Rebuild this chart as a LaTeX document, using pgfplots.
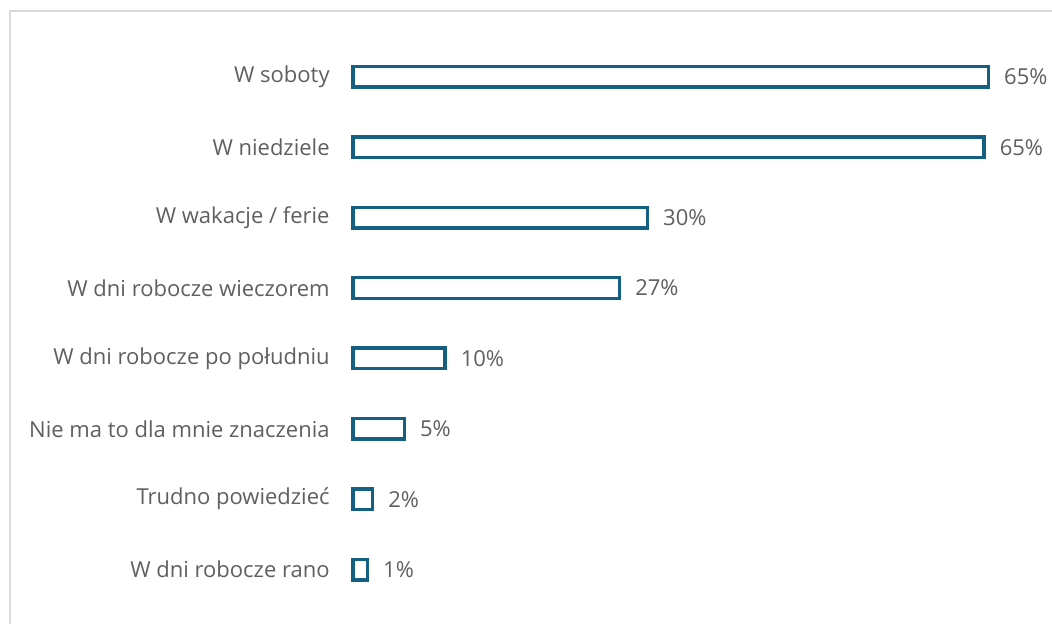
\documentclass[border=0pt]{standalone}
\usepackage{pgfplots}
\pgfplotsset{compat=1.18}
\usepackage{fontspec}
\setmainfont{Open Sans}
\definecolor{barblue}{HTML}{156082}
\definecolor{labgray}{HTML}{5F5F5F}
\definecolor{framegray}{HTML}{D9D9D9}
\begin{document}
\begin{tikzpicture}
\path[use as bounding box] (-176.5pt,-9.6pt) rectangle (349.5pt,302.4pt);
\draw[framegray, line width=1.1pt] (-171.5pt,-12pt) -- (-171.5pt,296.9pt) -- (352pt,296.9pt);
\begin{axis}[
  at={(0,0)}, anchor=south west,
  scale only axis,
  width=343pt, height=281.6pt,
  xmin=0, xmax=70, ymin=-0.5, ymax=7.5,
  xbar, bar width=10.3pt,
  hide x axis,
  axis y line*=left,
  y axis line style={draw=none},
  ytick={0,1,2,3,4,5,6,7},
  yticklabels={W dni robocze rano, Trudno powiedzieć, Nie ma to dla mnie znaczenia, W dni robocze po południu, W dni robocze wieczorem, W wakacje / ferie, W niedziele, W soboty},
  major tick length=0pt,
  ytick style={draw=none},
  yticklabel style={font=\fontsize{11}{13}\selectfont, text=labgray, inner sep=0pt, xshift=-11.5pt},
  clip=false,
  point meta=explicit symbolic,
  nodes near coords={\pgfplotspointmeta\%},
  nodes near coords style={font=\fontsize{11}{13}\selectfont, text=labgray, anchor=west, inner sep=0pt, xshift=7pt},
]
\addplot[draw=barblue, fill=white, line width=1.7pt] table[x=x, y=y, meta=lab] {
x y lab
1.48 0 1
2.0 1 2
5.25 2 5
9.4 3 10
27.2 4 27
30.05 5 30
64.4 6 65
64.85 7 65
};
\end{axis}
\end{tikzpicture}
\end{document}
